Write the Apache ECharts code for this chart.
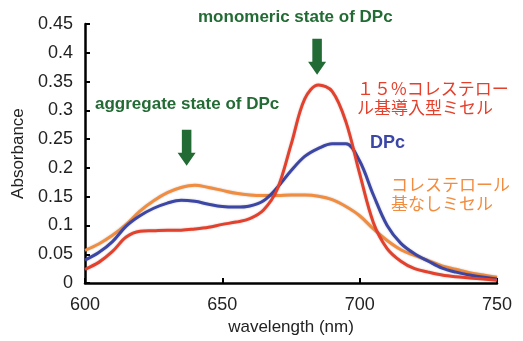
<!DOCTYPE html>
<html>
<head>
<meta charset="utf-8">
<script src="https://cdn.jsdelivr.net/npm/echarts@6/dist/echarts.min.js"></script>
<style>
  html, body { margin: 0; padding: 0; background: #fff; }
  #main { width: 523px; height: 341px; }
</style>
</head>
<body>
<div id="main"></div>
<script>
// wavelength (nm)
const wavelengths = [600, 605, 610, 615, 620, 625, 630, 635, 640, 645, 650, 655, 660, 665, 670,
    675, 680, 685, 690, 695, 700, 705, 710, 715, 720, 725, 730, 735, 740, 745, 750];

// 15% cholesterol-introduced micelle (red)
const cholMicelle = [0.024, 0.036, 0.055, 0.080, 0.090, 0.091, 0.092, 0.092, 0.094, 0.097, 0.102, 0.106, 0.112, 0.127, 0.163,
    0.240, 0.320, 0.344, 0.333, 0.280, 0.190, 0.105, 0.060, 0.038, 0.025, 0.019, 0.014, 0.011, 0.009, 0.007, 0.005];

// DPc alone (blue)
const dpc = [0.040, 0.053, 0.072, 0.099, 0.117, 0.130, 0.139, 0.144, 0.142, 0.137, 0.133, 0.132, 0.134, 0.143, 0.166,
    0.195, 0.220, 0.234, 0.242, 0.242, 0.212, 0.153, 0.100, 0.069, 0.051, 0.038, 0.026, 0.019, 0.014, 0.010, 0.007];

// micelle without cholesterol (orange)
const plainMicelle = [0.057, 0.068, 0.083, 0.102, 0.125, 0.143, 0.157, 0.166, 0.170, 0.166, 0.161, 0.156, 0.153, 0.152, 0.152,
    0.153, 0.153, 0.151, 0.145, 0.133, 0.117, 0.094, 0.074, 0.058, 0.048, 0.039, 0.030, 0.024, 0.018, 0.014, 0.010];

const xTicks = [600, 650, 700, 750];
const yTicks = [0, 0.05, 0.1, 0.15, 0.2, 0.25, 0.3, 0.35, 0.4, 0.45];

// arrow positions (data coords)
const arrowAggregate = [637, 0.235];
const arrowMonomer = [684.5, 0.393];

const red = '#e5402c';
const blue = '#3b46a6';
const orange = '#f28c3e';
const green = '#236b34';
const latin = 'Liberation Sans, Arial, sans-serif';
const cjk = '"Noto Sans CJK JP", sans-serif';

let myChart = echarts.init(document.getElementById('main'));

function pairs(ys) {
    return wavelengths.map((x, i) => [x, ys[i]]);
}

function line(name, ys, color) {
    return {
        name: name,
        type: 'line',
        smooth: 0.35,
        symbol: 'none',
        data: pairs(ys),
        lineStyle: {
            color: color,
            width: 3,
            shadowColor: 'rgba(0,0,0,0.25)',
            shadowBlur: 2
        },
        z: 3
    };
}

const arrowPath = 'path://M4,0 L13,0 L13,23 L17,23 L8.5,36 L0,23 L4,23 Z';

let option = {
    animation: false,
    grid: { left: 85, right: 26, top: 24, bottom: 57 },
    xAxis: {
        type: 'value',
        min: 600,
        max: 750,
        interval: 50,
        name: 'wavelength (nm)',
        nameLocation: 'middle',
        nameGap: 35,
        nameTextStyle: { fontFamily: latin, fontSize: 17, color: '#222' },
        axisLine: { lineStyle: { color: '#000', width: 2.5 } },
        axisTick: { inside: true, length: 5, lineStyle: { color: '#000', width: 2 } },
        axisLabel: { fontFamily: latin, fontSize: 18, color: '#222', margin: 13,
            formatter: v => xTicks.includes(v) ? String(v) : '' },
        splitLine: { show: false }
    },
    yAxis: {
        type: 'value',
        min: 0,
        max: 0.45,
        interval: 0.05,
        name: 'Absorbance',
        nameLocation: 'middle',
        nameGap: 58,
        nameTextStyle: { fontFamily: latin, fontSize: 17, color: '#222' },
        axisLine: { show: true, lineStyle: { color: '#000', width: 2.5 } },
        axisTick: { show: true, inside: true, length: 5, lineStyle: { color: '#000', width: 2 } },
        axisLabel: { fontFamily: latin, fontSize: 18, color: '#222', margin: 12,
            formatter: v => {
                const t = yTicks.find(k => Math.abs(k - v) < 1e-9);
                return t === undefined ? '' : String(t);
            } },
        splitLine: { show: false }
    },
    series: [
        line('コレステロール基なしミセル', plainMicelle, orange),
        line('DPc', dpc, blue),
        Object.assign(line('１５％コレステロール基導入型ミセル', cholMicelle, red), {
            markPoint: {
                symbol: arrowPath,
                symbolSize: [18, 36],
                symbolKeepAspect: false,
                itemStyle: { color: green },
                label: { show: false },
                data: [
                    { coord: arrowAggregate },
                    { coord: arrowMonomer }
                ]
            }
        })
    ],
    graphic: [
        { type: 'text', left: 198, top: 9, style: { text: 'monomeric state of DPc', fill: green, font: 'bold 17px ' + latin } },
        { type: 'text', left: 95, top: 96, style: { text: 'aggregate state of DPc', fill: green, font: 'bold 17px ' + latin } },
        { type: 'text', left: 357, top: 79, style: { text: '１５%コレステロー\nル基導入型ミセル', fill: red, font: '17px ' + cjk, lineHeight: 19 } },
        { type: 'text', left: 370, top: 134, style: { text: 'DPc', fill: blue, font: 'bold 18px ' + latin } },
        { type: 'text', left: 391, top: 175, style: { text: 'コレステロール\n基なしミセル', fill: orange, font: '17px ' + cjk, lineHeight: 19 } }
    ]
};

option && myChart.setOption(option);
</script>
</body>
</html>
